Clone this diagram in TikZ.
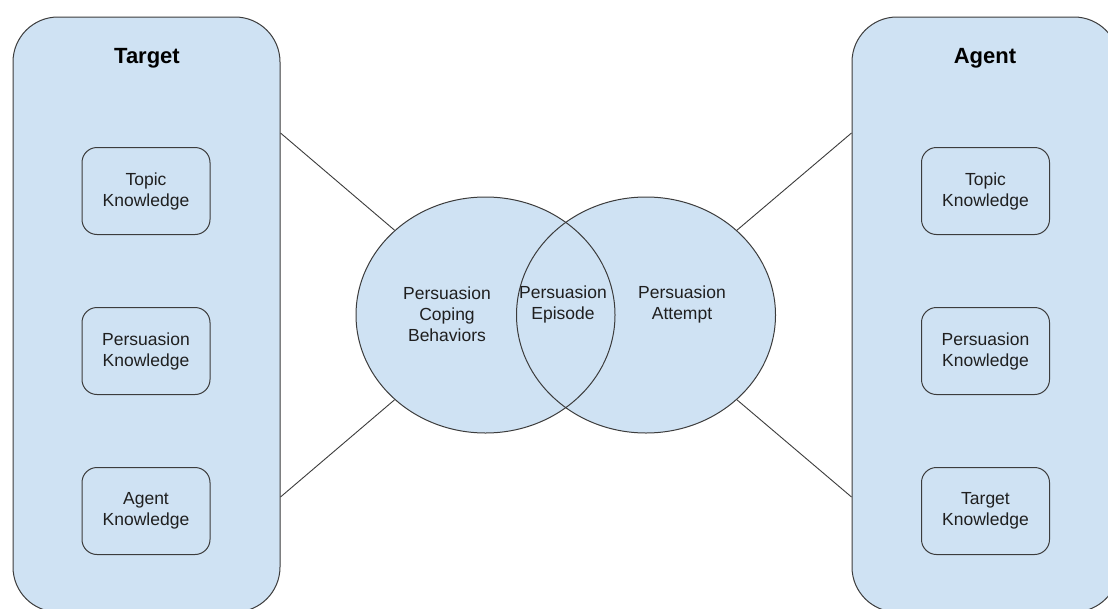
\documentclass[tikz,border=0pt]{standalone}
\usepackage{fontspec}
\setmainfont{Liberation Sans}
\usetikzlibrary{shapes.geometric}
\definecolor{paleblue}{HTML}{CFE2F3}
\definecolor{edgegray}{HTML}{3C3C3C}
\definecolor{inkgray}{HTML}{1F1F1F}

\tikzset{
  panel/.style={rectangle, rounded corners=45pt, draw=edgegray, fill=paleblue,
    line width=1pt, minimum width=267pt, minimum height=595pt, inner sep=0pt},
  kbox/.style={rectangle, rounded corners=15pt, draw=edgegray, fill=paleblue,
    line width=1pt, minimum width=128pt, minimum height=87pt, align=center,
    text=inkgray, font=\fontsize{17.5}{21}\selectfont},
  blob/.style={ellipse, minimum width=259pt, minimum height=236pt,
    inner sep=0pt, line width=1pt},
  lbl/.style={align=center, text=inkgray, font=\fontsize{17.5}{21}\selectfont},
  heading/.style={text=black, font=\bfseries\fontsize{22}{26}\selectfont},
  link/.style={draw=edgegray, line width=0.9pt}
}

\begin{document}
\begin{tikzpicture}[x=1pt,y=-1pt]
\useasboundingbox (0,0) rectangle (1108,608);
\clip (0,0) rectangle (1108,608);
\fill[white] (0,0) rectangle (1108,608);

% the two sides
\node[panel] (tgt) at (146.5,314.5) {};
\node[panel] (agt) at (985.5,314.5) {};
\node[heading] (tgttitle) at (147,58) {Target};
\node[heading] (agttitle) at (985,58) {Agent};

% knowledge boxes
\node[kbox] (tgttopic) at (146,191) {Topic\\Knowledge};
\node[kbox] (tgtpk) at (146,351) {Persuasion\\Knowledge};
\node[kbox] (tgtak) at (146,511) {Agent\\Knowledge};

\node[kbox] (agttopic) at (985.5,191) {Topic\\Knowledge};
\node[kbox] (agtpk) at (985.5,351) {Persuasion\\Knowledge};
\node[kbox] (agttk) at (985.5,511) {Target\\Knowledge};

% overlapping circles: fill first, outlines on top
\node[blob, fill=paleblue] (pcb) at (485.5,315) {};
\node[blob, fill=paleblue] (pa) at (646,315) {};
\node[blob, draw=edgegray] (pcbrim) at (485.5,315) {};
\node[blob, draw=edgegray] (parim) at (646,315) {};

\node[lbl] (pcbtext) at (447,314) {Persuasion\\Coping\\Behaviors};
\node[lbl] (petext) at (563,304) {Persuasion\\Episode};
\node[lbl] (patext) at (682,304) {Persuasion\\Attempt};

% links
\coordinate (tgthi) at (tgt.east |- 0,133);
\coordinate (tgtlo) at (tgt.east |- 0,497);
\coordinate (agthi) at (agt.west |- 0,133);
\coordinate (agtlo) at (agt.west |- 0,497);
\draw[link] (tgthi) -- (pcbrim.137);
\draw[link] (tgtlo) -- (pcbrim.223);
\draw[link] (agthi) -- (parim.43);
\draw[link] (agtlo) -- (parim.317);
\end{tikzpicture}
\end{document}
